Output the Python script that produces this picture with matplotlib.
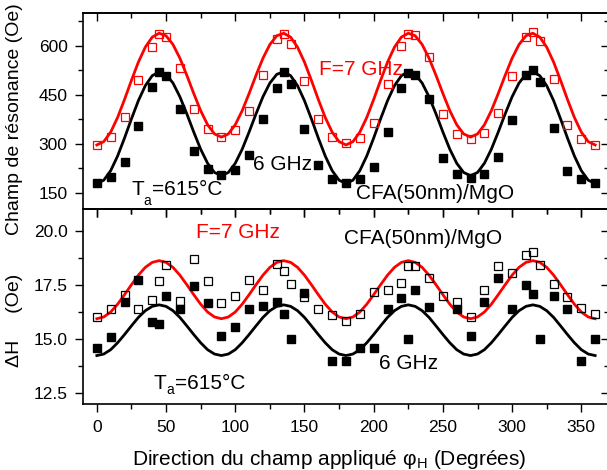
import numpy as np
import matplotlib
matplotlib.use('Agg')
import matplotlib.pyplot as plt
from matplotlib.ticker import MultipleLocator, FormatStrFormatter

# ---------------- data ----------------
phi = [0, 10, 20, 30, 40, 45, 50, 60, 70, 80, 90, 100, 110, 120, 130, 135, 140, 150, 160, 170,
       180, 190, 200, 210, 220, 225, 230, 240, 250, 260, 270, 280, 290, 300, 310, 315, 320, 330,
       340, 350, 360]

# resonance field (Oe)
hres_7ghz = [298, 321, 382, 497, 598, 636, 626, 534, 407, 346, 322, 343, 400, 511, 621, 636, 607,
             492, 376, 320, 302, 317, 363, 483, 600, 637, 633, 565, 393, 329, 315, 334, 396, 509,
             626, 643, 615, 498, 358, 316, 296]
hres_6ghz = [182, 198, 245, 356, 474, 519, 508, 406, 278, 222, 204, 219, 266, 376, 472, 519, 483,
             345, 237, 194, 182, 193, 228, 337, 472, 518, 510, 437, 257, 207, 195, 209, 259, 372,
             511, 527, 490, 350, 217, 193, 180]

# linewidth (Oe)
dh_7ghz = [16.01, 16.41, 17.04, 16.41, 16.81, 17.68, 18.41, 16.79, 18.70, 17.68, 16.68, 16.99,
           17.73, 17.27, 18.48, 18.13, 17.55, 16.96, 16.42, 16.14, 15.85, 16.15, 17.18, 17.27,
           17.58, 18.38, 18.39, 17.82, 17.01, 16.70, 16.01, 17.27, 18.39, 18.04, 18.87, 19.02,
           18.41, 17.53, 16.96, 16.44, 16.16]
dh_6ghz = [14.58, 15.12, 16.72, 17.73, 15.82, 15.70, 16.98, 16.39, 17.44, 16.68, 15.13, 15.56,
           16.39, 16.52, 16.70, 16.19, 15.01, 17.15, np.nan, 14.02, 14.01, 14.59, 14.59, 16.41,
           16.90, 15.01, 17.27, 16.48, np.nan, 16.39, 15.13, 16.70, 17.85, 16.39, 17.50, 17.08,
           15.01, 16.99, 16.41, 14.01, 15.01]

# fitted curves, read every 5 degrees
phi_fit = list(range(0, 365, 5))
fit_hres_7ghz = [297, 307.1, 336.3, 381.1, 436.2, 494.9, 550.5, 596.3, 627.0, 639, 631.2, 604.5,
                 562.5, 510.3, 454.6, 401.9, 358.9, 330.7, 321, 330.7, 358.9, 401.9, 454.6, 510.3,
                 562.5, 604.5, 631.2, 639, 627.0, 596.3, 550.5, 494.9, 436.2, 381.1, 336.3, 307.1,
                 297, 307.1, 336.3, 381.1, 436.2, 494.9, 550.5, 596.3, 627.0, 639, 631.2, 604.5,
                 562.5, 510.3, 454.6, 401.9, 358.9, 330.7, 321, 330.7, 358.9, 401.9, 454.6, 510.3,
                 562.5, 604.5, 631.2, 639, 627.0, 596.3, 550.5, 494.9, 436.2, 381.1, 336.3, 307.1,
                 297]
fit_hres_6ghz = [179, 189.1, 218.3, 263.1, 318.2, 376.9, 432.5, 478.3, 509.0, 521, 513.2, 486.5,
                 444.5, 392.3, 336.6, 283.9, 240.9, 212.7, 203, 212.7, 240.9, 283.9, 336.6, 392.3,
                 444.5, 486.5, 513.2, 521, 509.0, 478.3, 432.5, 376.9, 318.2, 263.1, 218.3, 189.1,
                 179, 189.1, 218.3, 263.1, 318.2, 376.9, 432.5, 478.3, 509.0, 521, 513.2, 486.5,
                 444.5, 392.3, 336.6, 283.9, 240.9, 212.7, 203, 212.7, 240.9, 283.9, 336.6, 392.3,
                 444.5, 486.5, 513.2, 521, 509.0, 478.3, 432.5, 376.9, 318.2, 263.1, 218.3, 189.1,
                 179]
fit_dh_7ghz = [15.95, 16.03, 16.26, 16.62, 17.06, 17.52, 17.96, 18.32, 18.55, 18.63, 18.55, 18.32,
               17.96, 17.52, 17.06, 16.62, 16.26, 16.03, 15.95, 16.03, 16.26, 16.62, 17.06, 17.52,
               17.96, 18.32, 18.55, 18.63, 18.55, 18.32, 17.96, 17.52, 17.06, 16.62, 16.26, 16.03,
               15.95, 16.03, 16.26, 16.62, 17.06, 17.52, 17.96, 18.32, 18.55, 18.63, 18.55, 18.32,
               17.96, 17.52, 17.06, 16.62, 16.26, 16.03, 15.95, 16.03, 16.26, 16.62, 17.06, 17.52,
               17.96, 18.32, 18.55, 18.63, 18.55, 18.32, 17.96, 17.52, 17.06, 16.62, 16.26, 16.03,
               15.95]
fit_dh_6ghz = [14.25, 14.32, 14.52, 14.84, 15.22, 15.62, 16.01, 16.32, 16.52, 16.59, 16.52, 16.32,
               16.01, 15.62, 15.22, 14.84, 14.52, 14.32, 14.25, 14.32, 14.52, 14.84, 15.22, 15.62,
               16.01, 16.32, 16.52, 16.59, 16.52, 16.32, 16.01, 15.62, 15.22, 14.84, 14.52, 14.32,
               14.25, 14.32, 14.52, 14.84, 15.22, 15.62, 16.01, 16.32, 16.52, 16.59, 16.52, 16.32,
               16.01, 15.62, 15.22, 14.84, 14.52, 14.32, 14.25, 14.32, 14.52, 14.84, 15.22, 15.62,
               16.01, 16.32, 16.52, 16.59, 16.52, 16.32, 16.01, 15.62, 15.22, 14.84, 14.52, 14.32,
               14.25]

# ---------------- style ----------------
plt.rcParams['font.family'] = ['Liberation Sans', 'DejaVu Sans']
plt.rcParams['mathtext.fontset'] = 'custom'
plt.rcParams['mathtext.rm'] = 'Liberation Sans'
plt.rcParams['mathtext.it'] = 'Liberation Sans:italic'
plt.rcParams['mathtext.bf'] = 'Liberation Sans:bold'

W, H = 607, 470
fig = plt.figure(figsize=(W / 100, H / 100), dpi=100)


def box(l, t, r, b):
    return [l / W, 1 - b / H, (r - l) / W, (b - t) / H]


ax1 = fig.add_axes(box(83, 13.3, 609, 209.3))
ax2 = fig.add_axes(box(83, 209.3, 609, 404.3))

RED = '#ff0000'
LW = 2.0
MS = 5.2

# top panel
ax1.plot(phi_fit, fit_hres_7ghz, color=RED, lw=LW, zorder=2)
ax1.plot(phi_fit, fit_hres_6ghz, color='black', lw=LW, zorder=2)
ax1.plot(phi, hres_7ghz, ls='none', marker='s', ms=MS, mfc='none', mec=RED, mew=0.9, zorder=3)
ax1.plot(phi, hres_6ghz, ls='none', marker='s', ms=MS, mfc='black', mec='black', zorder=3)
ax1.set_xlim(-10, 370)
ax1.set_ylim(100, 700)

# bottom panel
ax2.plot(phi_fit, fit_dh_7ghz, color=RED, lw=LW, zorder=2)
ax2.plot(phi_fit, fit_dh_6ghz, color='black', lw=LW, zorder=2)
ax2.plot(phi, dh_7ghz, ls='none', marker='s', ms=MS, mfc='none', mec='black', mew=0.9, zorder=3)
ax2.plot(phi, dh_6ghz, ls='none', marker='s', ms=MS, mfc='black', mec='black', zorder=3)
ax2.set_xlim(-10, 370)
ax2.set_ylim(12, 21)

ax1.yaxis.set_major_locator(MultipleLocator(150))
ax1.yaxis.set_minor_locator(MultipleLocator(75))
ax2.yaxis.set_major_locator(MultipleLocator(2.5))
ax2.yaxis.set_minor_locator(MultipleLocator(1.25))
ax2.yaxis.set_major_formatter(FormatStrFormatter('%.1f'))

for ax in (ax1, ax2):
    ax.set_facecolor('none')
    for s in ax.spines.values():
        s.set_linewidth(1.2)
    ax.xaxis.set_major_locator(MultipleLocator(50))
    ax.xaxis.set_minor_locator(MultipleLocator(25))
    ax.tick_params(which='both', direction='out', top=False, right=False, width=1.0,
                   labelsize=12.5, pad=5)
    ax.tick_params(which='major', length=6)
    ax.tick_params(which='minor', length=3.5)
    sx = ax.secondary_xaxis('top')
    sx.xaxis.set_major_locator(MultipleLocator(50))
    sx.xaxis.set_minor_locator(MultipleLocator(25))
    sx.tick_params(which='both', direction='in', labeltop=False, width=1.0)
    sx.tick_params(which='major', length=6)
    sx.tick_params(which='minor', length=3.5)
    sx.spines['top'].set_linewidth(1.2)
    sy = ax.secondary_yaxis('right')
    sy.yaxis.set_major_locator(ax.yaxis.get_major_locator())
    sy.yaxis.set_minor_locator(ax.yaxis.get_minor_locator())
    sy.tick_params(which='both', direction='in', labelright=False, width=1.0)
    sy.tick_params(which='major', length=6)
    sy.tick_params(which='minor', length=3.5)

ax1.tick_params(labelbottom=False)


def ftxt(x, y, s, size=15, **kw):
    fig.text(x / W, 1 - y / H, s, va='baseline', ha='left', fontsize=size, **kw)


def anneal(x, y, dy):
    ftxt(x, y, 'T')
    ftxt(x + 12, y + dy, 'a', size=10)
    ftxt(x + 21, y, '=615°C')


# annotations
ftxt(319, 75, 'F=7 GHz', color=RED)
ftxt(253, 170, '6 GHz')
anneal(131, 195, 10)
ftxt(356, 199, 'CFA(50nm)/MgO')

ftxt(196, 238, 'F=7 GHz', color=RED)
ftxt(344, 244, 'CFA(50nm)/MgO')
ftxt(379, 369, '6 GHz')
anneal(154, 389, 5)

# axis labels
fig.text(14.5 / W, 1 - 119 / H, 'Champ de résonance (Oe)', rotation=90, ha='center', va='center',
         fontsize=14)
fig.text(14.5 / W, 1 - 320 / H, 'ΔH     (Oe)', rotation=90, ha='center', va='center', fontsize=14)
fig.text(329 / W, 1 - 465 / H, r'Direction du champ appliqué φ$_\mathregular{H}$ (Degrées)',
         ha='center', va='baseline', fontsize=15)

fig.savefig('out.png', dpi=100)
